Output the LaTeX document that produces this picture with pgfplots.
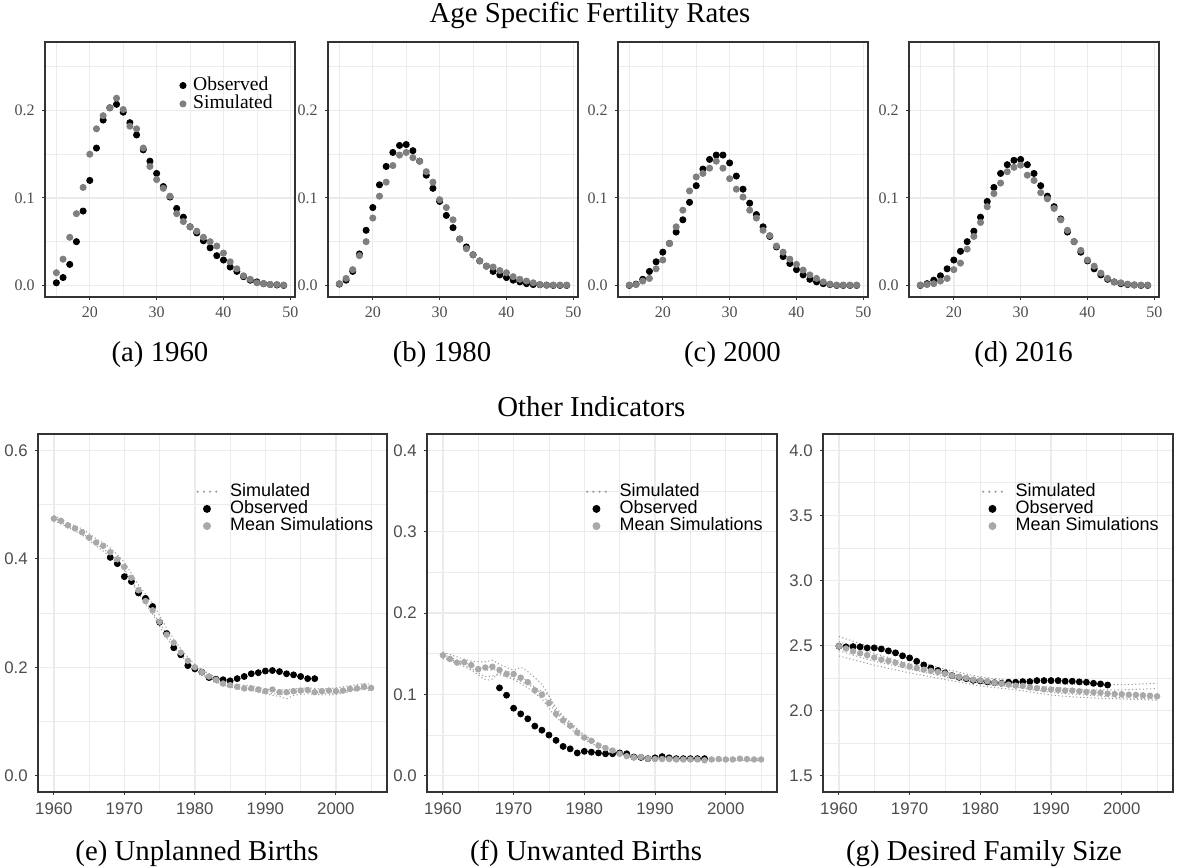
\documentclass[border=0pt]{standalone}
\usepackage{pgfplots}
\usepackage{pgfplotstable}
\pgfplotsset{compat=1.18}
\usepackage{fontspec}
\setmainfont{Liberation Serif}
\newfontfamily\arialf{Liberation Sans}
\newfontfamily\timesf{Liberation Serif}
\definecolor{gridc}{HTML}{EBEBEB}
\definecolor{framec}{HTML}{333333}
\definecolor{tickc}{HTML}{4D4D4D}
\definecolor{simc}{HTML}{7F7F7F}
\definecolor{meanc}{HTML}{A9A9A9}
\definecolor{simlinec}{HTML}{9C9C9C}

\pgfplotstableread{
age obs sim
15 0.003 0.0145
16 0.009 0.030
17 0.024 0.055
18 0.050 0.082
19 0.085 0.112
20 0.120 0.150
21 0.157 0.179
22 0.189 0.194
23 0.203 0.203
24 0.207 0.214
25 0.198 0.201
26 0.186 0.182
27 0.172 0.179
28 0.155 0.157
29 0.142 0.136
30 0.128 0.121
31 0.113 0.111
32 0.101 0.102
33 0.088 0.082
34 0.078 0.073
35 0.067 0.067
36 0.060 0.062
37 0.051 0.055
38 0.043 0.050
39 0.034 0.045
40 0.029 0.037
41 0.021 0.027
42 0.016 0.019
43 0.010 0.011
44 0.006 0.007
45 0.004 0.003
46 0.002 0.002
47 0.001 0.001
48 0.0005 0.001
49 0.0 0.0004
}\Ta
\pgfplotstableread{
age obs sim
15 0.0015 0.002
16 0.006 0.008
17 0.016 0.018
18 0.036 0.034
19 0.063 0.050
20 0.089 0.077
21 0.115 0.102
22 0.136 0.118
23 0.152 0.137
24 0.160 0.149
25 0.161 0.152
26 0.154 0.146
27 0.142 0.142
28 0.126 0.130
29 0.111 0.118
30 0.096 0.098
31 0.080 0.089
32 0.066 0.075
33 0.053 0.053
34 0.044 0.042
35 0.035 0.035
36 0.028 0.028
37 0.022 0.022
38 0.016 0.021
39 0.012 0.017
40 0.009 0.0145
41 0.006 0.010
42 0.004 0.007
43 0.002 0.005
44 0.001 0.003
45 0.0008 0.001
46 0.0003 0.0004
47 0.0 0.0004
48 0.0 0.0004
49 0.0 0.0004
}\Tb
\pgfplotstableread{
age obs sim
15 0.0 0.0004
16 0.0015 0.001
17 0.007 0.005
18 0.016 0.008
19 0.027 0.019
20 0.038 0.029
21 0.048 0.048
22 0.061 0.067
23 0.075 0.086
24 0.095 0.108
25 0.114 0.124
26 0.133 0.128
27 0.144 0.134
28 0.149 0.142
29 0.149 0.134
30 0.140 0.122
31 0.125 0.110
32 0.110 0.101
33 0.094 0.086
34 0.081 0.077
35 0.067 0.063
36 0.056 0.057
37 0.044 0.045
38 0.033 0.038
39 0.025 0.030
40 0.018 0.024
41 0.012 0.0175
42 0.007 0.012
43 0.004 0.008
44 0.002 0.004
45 0.001 0.0015
46 0.0 0.0004
47 0.0 0.0004
48 0.0 0.0004
49 0.0 0.0004
}\Tc
\pgfplotstableread{
age obs sim
15 0.0 0.0004
16 0.002 0.001
17 0.006 0.002
18 0.011 0.005
19 0.019 0.008
20 0.029 0.018
21 0.039 0.0255
22 0.050 0.0415
23 0.062 0.056
24 0.078 0.072
25 0.096 0.090
26 0.112 0.105
27 0.128 0.117
28 0.138 0.130
29 0.143 0.135
30 0.144 0.1375
31 0.138 0.126
32 0.128 0.120
33 0.114 0.106
34 0.102 0.099
35 0.090 0.088
36 0.076 0.075
37 0.061 0.063
38 0.050 0.050
39 0.038 0.040
40 0.028 0.029
41 0.019 0.022
42 0.012 0.014
43 0.007 0.008
44 0.004 0.004
45 0.002 0.003
46 0.001 0.0015
47 0.0005 0.0004
48 0.0 0.0004
49 0.0 0.0004
}\Td

% Other indicators
\pgfplotstableread{
year val
1968 0.4025
1969 0.391
1970 0.367
1971 0.358
1972 0.337
1973 0.327
1974 0.312
1975 0.283
1976 0.262
1977 0.236
1978 0.223
1979 0.203
1980 0.197
1981 0.191
1982 0.181
1983 0.178
1984 0.177
1985 0.175
1986 0.179
1987 0.183
1988 0.188
1989 0.190
1990 0.193
1991 0.194
1992 0.192
1993 0.188
1994 0.186
1995 0.183
1996 0.179
1997 0.179
}\EObs
\pgfplotstableread{
year val
1960 0.474
1961 0.470
1962 0.4615
1963 0.456
1964 0.449
1965 0.439
1966 0.430
1967 0.424
1968 0.412
1969 0.399
1970 0.385
1971 0.365
1972 0.342
1973 0.322
1974 0.305
1975 0.284
1976 0.260
1977 0.245
1978 0.227
1979 0.212
1980 0.200
1981 0.191
1982 0.183
1983 0.177
1984 0.170
1985 0.167
1986 0.164
1987 0.161
1988 0.161
1989 0.159
1990 0.156
1991 0.159
1992 0.154
1993 0.154
1994 0.156
1995 0.157
1996 0.158
1997 0.154
1998 0.156
1999 0.157
2000 0.156
2001 0.157
2002 0.160
2003 0.161
2004 0.164
2005 0.162
}\EMean
\pgfplotstableread{
year val
1968 0.108
1969 0.099
1970 0.083
1971 0.076
1972 0.070
1973 0.061
1974 0.056
1975 0.050
1976 0.0435
1977 0.036
1978 0.033
1979 0.028
1980 0.030
1981 0.029
1982 0.028
1983 0.027
1984 0.027
1985 0.028
1986 0.027
1987 0.023
1988 0.0225
1989 0.021
1990 0.022
1991 0.0235
1992 0.022
1993 0.021
1994 0.021
1995 0.021
1996 0.021
1997 0.021
}\FObs
\pgfplotstableread{
year val
1960 0.148
1961 0.1435
1962 0.139
1963 0.1395
1964 0.136
1965 0.131
1966 0.133
1967 0.134
1968 0.130
1969 0.125
1970 0.125
1971 0.1205
1972 0.115
1973 0.105
1974 0.0997
1975 0.0895
1976 0.076
1977 0.068
1978 0.0615
1979 0.053
1980 0.047
1981 0.043
1982 0.037
1983 0.034
1984 0.031
1985 0.027
1986 0.024
1987 0.0225
1988 0.023
1989 0.021
1990 0.0205
1991 0.0205
1992 0.0205
1993 0.020
1994 0.020
1995 0.020
1996 0.020
1997 0.019
1998 0.020
1999 0.0205
2000 0.020
2001 0.020
2002 0.021
2003 0.0205
2004 0.020
2005 0.020
}\FMean
\pgfplotstableread{
year val
1960 2.495
1961 2.490
1962 2.492
1963 2.490
1964 2.482
1965 2.482
1966 2.474
1967 2.459
1968 2.444
1969 2.421
1970 2.405
1971 2.379
1972 2.351
1973 2.328
1974 2.308
1975 2.290
1976 2.269
1977 2.256
1978 2.246
1979 2.233
1980 2.228
1981 2.221
1982 2.215
1983 2.210
1984 2.218
1985 2.218
1986 2.223
1987 2.223
1988 2.231
1989 2.231
1990 2.231
1991 2.231
1992 2.226
1993 2.226
1994 2.221
1995 2.218
1996 2.210
1997 2.205
1998 2.197
}\GObs
\pgfplotstableread{
year val
1960 2.495
1961 2.477
1962 2.456
1963 2.441
1964 2.426
1965 2.408
1966 2.392
1967 2.382
1968 2.369
1969 2.351
1970 2.338
1971 2.326
1972 2.315
1973 2.305
1974 2.297
1975 2.285
1976 2.269
1977 2.259
1978 2.251
1979 2.238
1980 2.233
1981 2.226
1982 2.215
1983 2.208
1984 2.200
1985 2.192
1986 2.190
1987 2.179
1988 2.172
1989 2.164
1990 2.162
1991 2.159
1992 2.154
1993 2.154
1994 2.149
1995 2.144
1996 2.141
1997 2.138
1998 2.131
1999 2.128
2000 2.126
2001 2.123
2002 2.121
2003 2.118
2004 2.115
2005 2.110
}\GMean

\pgfplotsset{
  basepanel/.style={
    scale only axis, anchor=north west,
    axis line style={framec, line width=0.55pt},
    grid=both,
    major grid style={gridc, line width=0.7pt},
    minor grid style={gridc, line width=0.35pt},
    tick align=outside, tick pos=left,
    major tick length=1.6pt, minor tick length=0pt,
    major tick style={framec, line width=0.5pt},
    legend cell align=left,
  },
  toppanel/.style={
    basepanel, width=125pt, height=127.5pt,
    xmin=13.3, xmax=50.7, ymin=-0.01325, ymax=0.27825,
    xtick={20,30,40,50}, xticklabels={20,30,40,50},
    minor xtick={15,25,35,45},
    ytick={0,0.1,0.2}, yticklabels={0.0,0.1,0.2},
    minor ytick={0.05,0.15,0.25},
    tick label style={font=\fontsize{8}{8}\timesf, text=tickc},
    legend style={at={(0.538,0.867)}, anchor=north west, draw=none, fill=none,
      inner sep=0pt, row sep=0pt, font=\fontsize{9.8}{10}\timesf,
      nodes={inner sep=0.35pt, text height=6.5pt, text depth=2pt},
      /tikz/every odd column/.append style={column sep=3.2pt}},
  },
  botpanel/.style={
    basepanel, width=175pt, height=179pt,
    xmin=1957.75, xmax=2007.25,
    xtick={1960,1970,1980,1990,2000}, xticklabels={1960,1970,1980,1990,2000},
    minor xtick={1965,1975,1985,1995,2005},
    tick label style={font=\fontsize{8.4}{9}\arialf, text=tickc},
    legend style={at={(0.453,0.864)}, anchor=north west, draw=none, fill=none,
      inner sep=0pt, row sep=0pt, font=\fontsize{9}{10}\arialf,
      nodes={inner sep=0.2pt, text height=6.3pt, text depth=1.9pt},
      /tikz/every odd column/.append style={column sep=5.5pt}},
  },
  obsT/.style={only marks, mark=*, mark size=1.55pt, black, mark options={draw=none, fill=black},
    legend image code/.code={\draw[##1] plot coordinates {(0pt,0pt)};}},
  simT/.style={only marks, mark=*, mark size=1.55pt, simc, mark options={draw=none, fill=simc},
    legend image code/.code={\draw[##1] plot coordinates {(0pt,0pt)};}},
  simL/.style={simlinec, line width=0.5pt, dash pattern=on 0.6pt off 1.2pt, smooth, tension=0.4, no marks,
    legend image code/.code={\path[draw=simlinec, line width=1.2pt, line cap=round, dash pattern=on 0pt off 3.1pt] (0.6pt,0pt) -- (10.5pt,0pt);}},
  obsB/.style={only marks, mark=*, mark size=1.5pt, black, mark options={draw=none, fill=black},
    legend image code/.code={\path[draw=none, fill=none] (0pt,0pt) -- (10.5pt,0pt); \path[draw=none, fill=black] (5.25pt,0pt) circle (2pt);}},
  meanB/.style={only marks, mark=*, mark size=1.4pt, meanc, mark options={draw=none, fill=meanc},
    legend image code/.code={\path[draw=none, fill=none] (0pt,0pt) -- (10.5pt,0pt); \path[draw=none, fill=meanc] (5.25pt,0pt) circle (2pt);}},
}

\begin{document}
\begin{tikzpicture}
\useasboundingbox (0,0) rectangle (588.5pt,-433.5pt);

\node[anchor=base, font=\fontsize{14.4}{17}\selectfont] at (295pt,-11.5pt) {Age Specific Fertility Rates};
\node[anchor=base, font=\fontsize{14.4}{17}\selectfont] at (295.7pt,-208pt) {Other Indicators};

% ---- top row ----
\begin{axis}[toppanel, at={(22.5pt,-21pt)}]
\addplot[obsT] table[x=age,y=obs]{\Ta};
\addplot[simT] table[x=age,y=sim]{\Ta};
\legend{Observed,Simulated}
\end{axis}
\begin{axis}[toppanel, at={(164pt,-21pt)}]
\addplot[obsT] table[x=age,y=obs]{\Tb};
\addplot[simT] table[x=age,y=sim]{\Tb};
\end{axis}
\begin{axis}[toppanel, at={(309pt,-21pt)}]
\addplot[obsT] table[x=age,y=obs]{\Tc};
\addplot[simT] table[x=age,y=sim]{\Tc};
\end{axis}
\begin{axis}[toppanel, at={(454.5pt,-21pt)}]
\addplot[obsT] table[x=age,y=obs]{\Td};
\addplot[simT] table[x=age,y=sim]{\Td};
\end{axis}

\node[anchor=base, font=\fontsize{14.4}{17}\selectfont] at (80pt,-180.5pt) {(a) 1960};
\node[anchor=base, font=\fontsize{14.4}{17}\selectfont] at (221pt,-180.5pt) {(b) 1980};
\node[anchor=base, font=\fontsize{14.4}{17}\selectfont] at (366.25pt,-180.5pt) {(c) 2000};
\node[anchor=base, font=\fontsize{14.4}{17}\selectfont] at (511.75pt,-180.5pt) {(d) 2016};

% ---- bottom row ----
\begin{axis}[botpanel, at={(19pt,-217pt)}, width=174.5pt,
  ymin=-0.03, ymax=0.63, ytick={0,0.2,0.4,0.6}, yticklabels={0.0,0.2,0.4,0.6},
  minor ytick={0.1,0.3,0.5}]
\addplot[simL] coordinates {(1960,0.480) (1962,0.466) (1964,0.455) (1966,0.437) (1968,0.420) (1970,0.393) (1972,0.352) (1974,0.318) (1976,0.272) (1978,0.234) (1980,0.205) (1982,0.188) (1984,0.176) (1986,0.168) (1988,0.166) (1990,0.160) (1992,0.158) (1994,0.160) (1996,0.162) (1998,0.160) (2000,0.162) (2002,0.166) (2004,0.170) (2005,0.168)};
\addplot[simL, forget plot] coordinates {(1960,0.476) (1962,0.460) (1964,0.447) (1966,0.428) (1968,0.408) (1970,0.380) (1972,0.336) (1974,0.298) (1976,0.254) (1978,0.222) (1980,0.197) (1982,0.181) (1984,0.168) (1986,0.160) (1988,0.157) (1990,0.153) (1992,0.150) (1994,0.152) (1996,0.155) (1998,0.152) (2000,0.153) (2002,0.158) (2004,0.162) (2005,0.160)};
\addplot[simL, forget plot] coordinates {(1960,0.470) (1962,0.458) (1964,0.444) (1966,0.424) (1968,0.404) (1970,0.378) (1972,0.340) (1974,0.302) (1976,0.262) (1978,0.226) (1980,0.198) (1982,0.178) (1984,0.166) (1986,0.162) (1988,0.158) (1990,0.151) (1992,0.146) (1993,0.142) (1994,0.148) (1996,0.151) (1998,0.149) (2000,0.150) (2002,0.155) (2004,0.159) (2005,0.156)};
\addplot[obsB] table[x=year,y=val]{\EObs};
\addplot[meanB] table[x=year,y=val]{\EMean};
\legend{Simulated,Observed,Mean Simulations}
\end{axis}

\begin{axis}[botpanel, at={(213.5pt,-217pt)},
  ymin=-0.02, ymax=0.42, ytick={0,0.1,0.2,0.3,0.4}, yticklabels={0.0,0.1,0.2,0.3,0.4},
  minor ytick={0.05,0.15,0.25,0.35}]
\addplot[simL] coordinates {(1960,0.152) (1962,0.146) (1964,0.141) (1966,0.140) (1967,0.142) (1968,0.137) (1970,0.130) (1971,0.133) (1972,0.128) (1974,0.112) (1976,0.084) (1978,0.064) (1980,0.050) (1982,0.040) (1984,0.032) (1986,0.026) (1988,0.024) (1990,0.022) (1995,0.021) (2000,0.021) (2005,0.021)};
\addplot[simL, forget plot] coordinates {(1960,0.146) (1962,0.140) (1964,0.132) (1966,0.122) (1968,0.124) (1970,0.118) (1972,0.108) (1974,0.094) (1976,0.072) (1978,0.058) (1980,0.044) (1982,0.036) (1984,0.029) (1986,0.024) (1988,0.022) (1990,0.020) (1995,0.019) (2000,0.019) (2005,0.019)};
\addplot[simL, forget plot] coordinates {(1960,0.149) (1962,0.142) (1964,0.136) (1966,0.130) (1968,0.130) (1970,0.126) (1972,0.116) (1974,0.100) (1976,0.078) (1978,0.062) (1980,0.047) (1982,0.038) (1984,0.031) (1986,0.025) (1988,0.023) (1990,0.021) (1995,0.020) (2000,0.020) (2005,0.020)};
\addplot[simL, forget plot] coordinates {(1960,0.144) (1962,0.138) (1964,0.130) (1966,0.118) (1967,0.119) (1968,0.126) (1970,0.120) (1972,0.112) (1974,0.104) (1975,0.098) (1976,0.080) (1978,0.066) (1980,0.050) (1982,0.038) (1984,0.030) (1986,0.025) (1990,0.021) (2000,0.020) (2005,0.020)};
\addplot[obsB] table[x=year,y=val]{\FObs};
\addplot[meanB] table[x=year,y=val]{\FMean};
\legend{Simulated,Observed,Mean Simulations}
\end{axis}

\begin{axis}[botpanel, at={(411.5pt,-217pt)},
  ymin=1.375, ymax=4.125, ytick={1.5,2,2.5,3,3.5,4}, yticklabels={1.5,2.0,2.5,3.0,3.5,4.0},
  minor ytick={1.75,2.25,2.75,3.25,3.75}]
\addplot[simL] coordinates {(1960,2.57) (1965,2.48) (1970,2.40) (1975,2.32) (1980,2.26) (1985,2.23) (1990,2.21) (1995,2.20) (2000,2.20) (2005,2.21)};
\addplot[simL, forget plot] coordinates {(1960,2.53) (1965,2.44) (1970,2.36) (1975,2.30) (1980,2.24) (1985,2.20) (1990,2.18) (1995,2.16) (2000,2.16) (2005,2.17)};
\addplot[simL, forget plot] coordinates {(1960,2.46) (1965,2.38) (1970,2.32) (1975,2.26) (1980,2.21) (1985,2.18) (1990,2.14) (1995,2.12) (2000,2.10) (2005,2.09)};
\addplot[simL, forget plot] coordinates {(1960,2.42) (1965,2.35) (1970,2.29) (1975,2.24) (1980,2.19) (1985,2.16) (1990,2.12) (1995,2.10) (2000,2.09) (2005,2.08)};
\addplot[obsB] table[x=year,y=val]{\GObs};
\addplot[meanB] table[x=year,y=val]{\GMean};
\legend{Simulated,Observed,Mean Simulations}
\end{axis}

\node[anchor=base, font=\fontsize{14.4}{17}\selectfont] at (98.5pt,-430pt) {(e) Unplanned Births};
\node[anchor=base, font=\fontsize{14.4}{17}\selectfont] at (293pt,-430pt) {(f) Unwanted Births};
\node[anchor=base, font=\fontsize{14.4}{17}\selectfont] at (492pt,-430pt) {(g) Desired Family Size};
\end{tikzpicture}
\end{document}
